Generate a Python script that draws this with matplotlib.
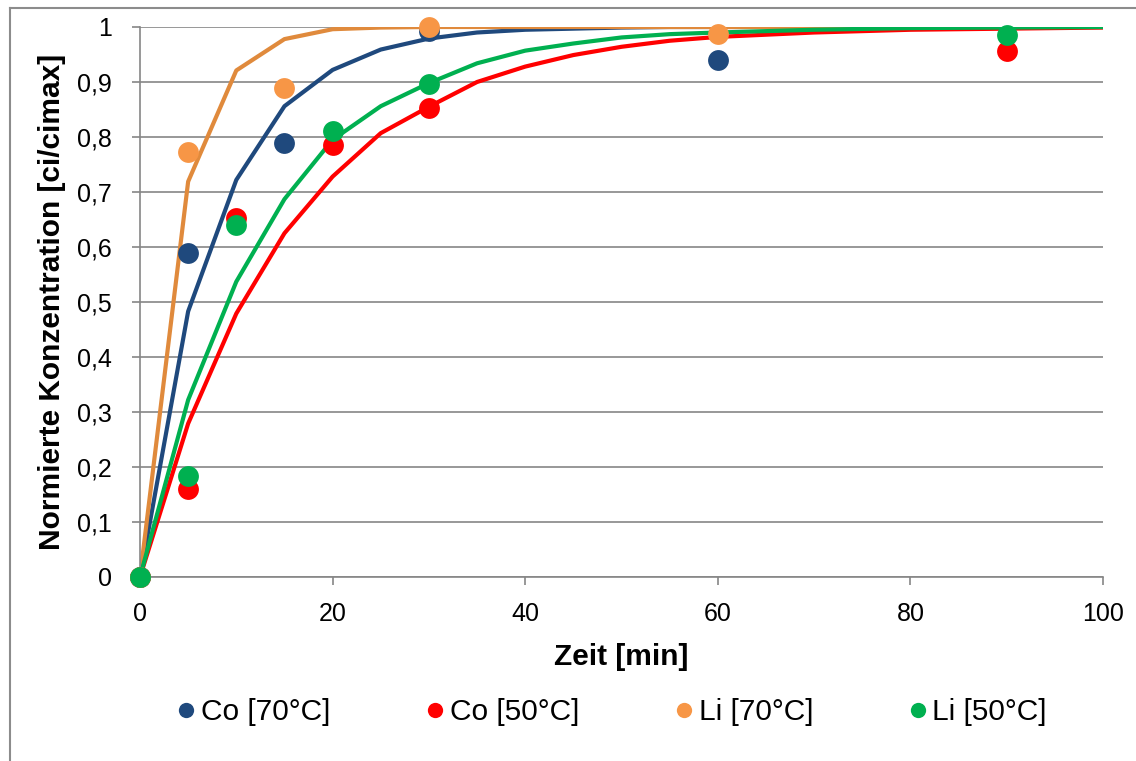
import matplotlib.pyplot as plt
from matplotlib.lines import Line2D
from matplotlib.ticker import FuncFormatter

plt.rcParams['font.family'] = ['Liberation Sans', 'DejaVu Sans']

# measured points
t_co70 = [0, 5, 15, 30, 60]
c_co70 = [0, 0.59, 0.79, 0.993, 0.94]
t_co50 = [0, 5, 10, 20, 30, 90]
c_co50 = [0, 0.16, 0.652, 0.785, 0.853, 0.957]
t_li70 = [0, 5, 15, 30, 60]
c_li70 = [0, 0.773, 0.89, 1.0, 0.988]
t_li50 = [0, 5, 10, 20, 30, 90]
c_li50 = [0, 0.184, 0.64, 0.81, 0.896, 0.985]

# model curves
t_fit = [0, 5, 10, 15, 20, 25, 30, 35, 40, 45, 50, 55, 60, 70, 80, 90, 100]
fit_co70 = [0, 0.483, 0.722, 0.856, 0.922, 0.959, 0.979, 0.99, 0.995, 0.997, 0.999, 1, 1, 1, 1, 1, 1]
fit_co50 = [0, 0.279, 0.479, 0.625, 0.728, 0.807, 0.855, 0.9, 0.928, 0.949, 0.964, 0.975, 0.982, 0.99, 0.995, 0.997, 0.999]
fit_li70 = [0, 0.719, 0.921, 0.978, 0.996, 0.999, 1, 1, 1, 1, 1, 1, 1, 1, 1, 1, 1]
fit_li50 = [0, 0.322, 0.537, 0.687, 0.795, 0.856, 0.898, 0.934, 0.957, 0.97, 0.981, 0.987, 0.99, 0.995, 0.998, 0.999, 1]

labels = ['Co [70°C]', 'Co [50°C]', 'Li [70°C]', 'Li [50°C]']
blue = '#1F497D'
red = '#FF0000'
orange = '#F79646'
orange_line = '#E08A3C'
green = '#00B050'
grid = '#868686'

fig = plt.figure(figsize=(11.36, 7.61), dpi=100)
ax = fig.add_axes([140/1136, 1-577/761, (1103-140)/1136, (577-27)/761])

ax.plot(t_fit, fit_co70, color=blue, lw=3, zorder=2)
ax.plot(t_fit, fit_li70, color=orange_line, lw=3, zorder=2)
ax.plot(t_fit, fit_co50, color=red, lw=3, zorder=2)
ax.plot(t_fit, fit_li50, color=green, lw=3, zorder=2)

ms = 15
ax.plot(t_co70, c_co70, 'o', color=blue, ms=ms, mec='none', zorder=3, clip_on=False)
ax.plot(t_co50, c_co50, 'o', color=red, ms=ms, mec='none', zorder=3, clip_on=False)
ax.plot(t_li70, c_li70, 'o', color=orange, ms=ms, mec='none', zorder=3, clip_on=False)
ax.plot(t_li50, c_li50, 'o', color=green, ms=ms, mec='none', zorder=3, clip_on=False)

ax.set_xlim(0, 100)
ax.set_ylim(0, 1)
ax.set_xticks(range(0, 101, 20))
ax.set_yticks([i/10 for i in range(11)])
ax.yaxis.set_major_formatter(FuncFormatter(lambda v, p: ('%g' % round(v, 1)).replace('.', ',')))
ax.grid(axis='y', color=grid, lw=1.2)
ax.set_axisbelow(True)
for s in ['top', 'right']:
    ax.spines[s].set_visible(False)
for s in ['left', 'bottom']:
    ax.spines[s].set_color(grid)
    ax.spines[s].set_linewidth(1.2)
ax.tick_params(colors=grid, labelcolor='black', labelsize=18, length=6, width=1.2)
ax.tick_params(axis='y', pad=14)
ax.tick_params(axis='x', pad=12)

ax.set_xlabel('Zeit [min]', fontsize=21.5, fontweight='bold', labelpad=12)
ax.set_ylabel('Normierte Konzentration [ci/cimax]', fontsize=21.5, fontweight='bold', labelpad=8)

handles = [Line2D([], [], ls='none', marker='o', ms=11, mec='none', color=c)
           for c in [blue, red, orange, green]]
fig.legend(handles, labels, loc='center', bbox_to_anchor=(612/1136, 1-712/761), ncol=4,
           frameon=False, fontsize=21.5, handletextpad=0.2, columnspacing=3.2, handlelength=0.6)

# outer chart border
fig.add_artist(Line2D([10/1136, 10/1136], [0, 1-8/761], color='#8C8C8C', lw=1.5))
fig.add_artist(Line2D([10/1136, 1], [1-8/761, 1-8/761], color='#8C8C8C', lw=1.5))

fig.savefig('out.png', dpi=100)
